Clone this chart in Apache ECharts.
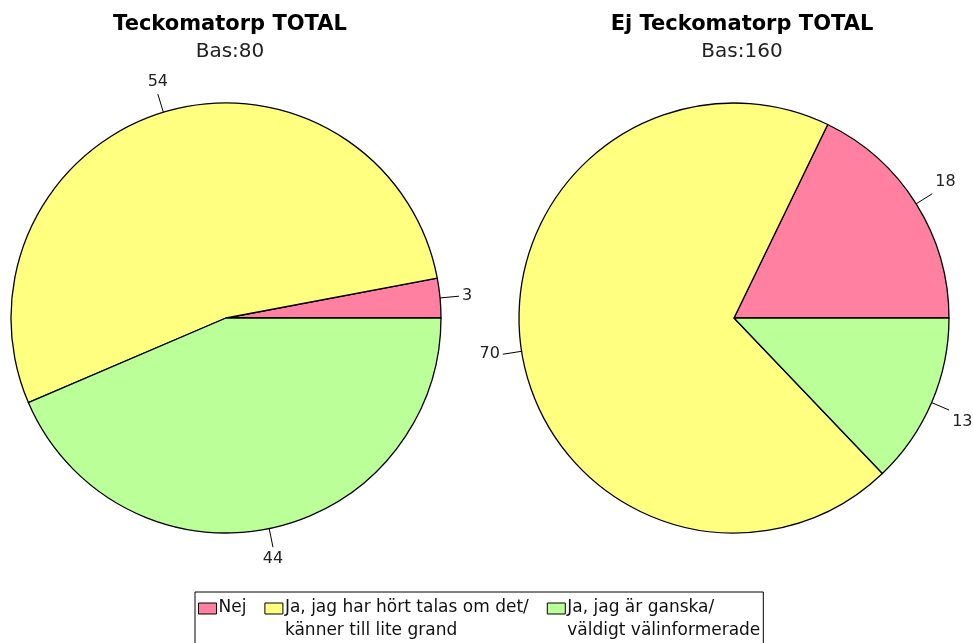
<!DOCTYPE html>
<html>
<head>
<meta charset="utf-8">
<script src="https://cdn.jsdelivr.net/npm/echarts@6/dist/echarts.min.js"></script>
<style>
html,body{margin:0;padding:0;background:#fff;}
#main{width:973px;height:643px;}
</style>
</head>
<body>
<div id="main"></div>
<script>
var categories = ['Nej', 'Ja, jag har hört talas om det/ känner till lite grand', 'Ja, jag är ganska/ väldigt välinformerade'];
var colors = ['#FF80A0', '#FFFF80', '#BBFF99'];
var teckomatorp = [3, 54, 44];
var ejTeckomatorp = [18, 70, 13];
var titles = ['Teckomatorp TOTAL', 'Ej Teckomatorp TOTAL'];
var bases = ['Bas:80', 'Bas:160'];

var chart = echarts.init(document.getElementById('main'));
var font = 'DejaVu Sans';

function mkData(vals) {
	return vals.map(function (v, i) {
		return {value: v, name: categories[i], itemStyle: {color: colors[i]}};
	});
}

// put the label box against the end of the leader line, on the side away from the pie
function placeLabel(p) {
	var pts = p.labelLinePoints;
	if (!pts) return {};
	var a = pts[0], b = pts[1];
	var dx = b[0] - a[0], dy = b[1] - a[1];
	var len = Math.sqrt(dx * dx + dy * dy) || 1;
	dx /= len; dy /= len;
	var w = p.labelRect.width, h = p.labelRect.height;
	var x = b[0], y = b[1];
	if (dx > 0.5) x += 3 + w / 2;
	else if (dx < -0.5) x -= 3 + w / 2;
	if (dy > 0.3) y += 4 + h / 2;
	else if (dy < -0.3) y -= 4 + h / 2;
	return {
		x: x, y: y, align: 'center', verticalAlign: 'middle',
		labelLinePoints: [a, b, b]
	};
}

function mkPie(vals, cx) {
	return {
		type: 'pie',
		center: [cx, 318],
		radius: 215,
		startAngle: 0,
		clockwise: false,
		silent: true,
		animation: false,
		itemStyle: {borderColor: '#000', borderWidth: 1.3},
		label: {
			show: true,
			position: 'outside',
			formatter: '{c}',
			color: '#222',
			fontFamily: font,
			fontSize: 16,
			overflow: 'none'
		},
		labelLine: {show: true, length: 19, length2: 0, lineStyle: {color: '#000', width: 1}},
		labelLayout: placeLabel,
		data: mkData(vals)
	};
}

// small box at the top of a tall icon area, so it sits beside the first text line
var legendIcon = 'path://M0,0L0,0 M0,6.5H18V17.5H0Z M0,46L0,46';

var option = {
	backgroundColor: '#fff',
	title: [
		{text: titles[0], subtext: bases[0], left: 225, top: 9, textAlign: 'center', itemGap: 7,
			textStyle: {fontFamily: font, fontSize: 21, fontWeight: 'bold', color: '#000'},
			subtextStyle: {fontFamily: font, fontSize: 20, color: '#222'}},
		{text: titles[1], subtext: bases[1], left: 737, top: 9, textAlign: 'center', itemGap: 7,
			textStyle: {fontFamily: font, fontSize: 21, fontWeight: 'bold', color: '#000'},
			subtextStyle: {fontFamily: font, fontSize: 20, color: '#222'}}
	],
	legend: {
		left: 195,
		top: 592,
		orient: 'horizontal',
		data: categories,
		itemWidth: 18,
		itemHeight: 46,
		itemGap: 18,
		padding: [4, 3, 2, 3],
		borderColor: '#000',
		borderWidth: 1,
		borderRadius: 0,
		backgroundColor: '#fff',
		icon: legendIcon,
		itemStyle: {borderColor: '#000', borderWidth: 1},
		textStyle: {fontFamily: font, fontSize: 17, color: '#111', lineHeight: 23, padding: [0, 0, 0, -3]},
		formatter: function (name) {
			return name.indexOf('/ ') >= 0 ? name.replace('/ ', '/\n') : name + '\n ';
		}
	},
	series: [mkPie(teckomatorp, 226), mkPie(ejTeckomatorp, 734)]
};
chart.setOption(option);
</script>
</body>
</html>
